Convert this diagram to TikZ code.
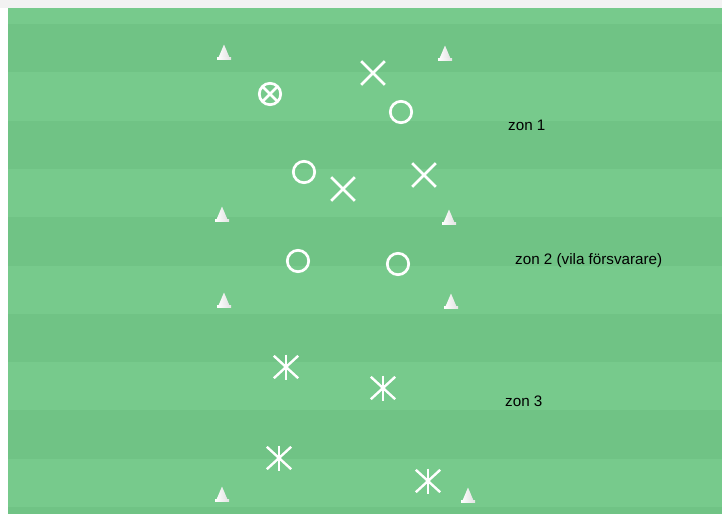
\documentclass[tikz,border=0pt]{standalone}
\usepackage{fontspec}
\setmainfont{Liberation Sans}
\usetikzlibrary{shapes.misc}
\definecolor{grasslight}{RGB}{119,202,140}
\definecolor{grassdark}{RGB}{112,195,133}
\definecolor{framegrey}{RGB}{242,242,242}
\tikzset{
	ring/.style={circle, draw=white, line width=2.7pt, minimum size=21.4pt, inner sep=0pt},
	ballring/.style={ring, path picture={\draw[white, line width=2.5pt] (path picture bounding box.south west) -- (path picture bounding box.north east) (path picture bounding box.north west) -- (path picture bounding box.south east);}},
	cross/.style={cross out, draw=white, line width=2.7pt, minimum size=21pt, inner sep=0pt},
	striker/.style={cross out, draw=white, line width=2.4pt, minimum width=22pt, minimum height=20pt, inner sep=0pt,
		append after command={([yshift=12.5pt]\tikzlastnode.center) edge[draw=white, line width=2.4pt] ([yshift=-12.5pt]\tikzlastnode.center)}},
	cone/.style={minimum width=14pt, minimum height=15pt, inner sep=0pt,
		path picture={\shade[left color=white, right color=gray!25] ([xshift=-5.5pt,yshift=2pt]path picture bounding box.south) -- (path picture bounding box.north) -- ([xshift=5.5pt,yshift=2pt]path picture bounding box.south) -- cycle;
		\shade[left color=white, right color=gray!22] (path picture bounding box.south west) rectangle ([yshift=2pt]path picture bounding box.south east);}},
	zone/.style={anchor=base west, font=\fontsize{15.2}{18}\selectfont, inner sep=0pt}
}
\begin{document}
\begin{tikzpicture}[x=1pt, y=-1pt]
	\fill[framegrey] (0,0) rectangle (722,514);
	\fill[white] (0,8) rectangle (8,514);
	\fill[grasslight] (8,8) rectangle (722,514);
	\foreach \k in {0,2,4,6,8,10}
		\fill[grassdark] (8,{24+48.3*\k}) rectangle (722,{min(514,24+48.3*(\k+1))});

	\node[cone] (c1) at (224,52) {};
	\node[cone] (c2) at (445,53) {};
	\node[cone] (c3) at (222,214) {};
	\node[cone] (c4) at (449,217) {};
	\node[cone] (c5) at (224,300) {};
	\node[cone] (c6) at (451,301) {};
	\node[cone] (c7) at (222,494) {};
	\node[cone] (c8) at (468,495) {};

	\node[ballring] (ball) at (270,94) {};
	\node[cross] (x1) at (373,73) {};
	\node[ring] (o1) at (401,112) {};
	\node[ring] (o2) at (304,172) {};
	\node[cross] (x2) at (343,189) {};
	\node[cross] (x3) at (424,175) {};
	\node[ring] (o3) at (298,261) {};
	\node[ring] (o4) at (398,264) {};

	\node[striker] (s1) at (286,367) {};
	\node[striker] (s2) at (383,388) {};
	\node[striker] (s3) at (279,458) {};
	\node[striker] (s4) at (428,481) {};

	\node[zone] (zon1) at (508,130) {zon 1};
	\node[zone] (zon2) at (515,264) {zon 2 (vila försvarare)};
	\node[zone] (zon3) at (505,406) {zon 3};
\end{tikzpicture}
\end{document}
